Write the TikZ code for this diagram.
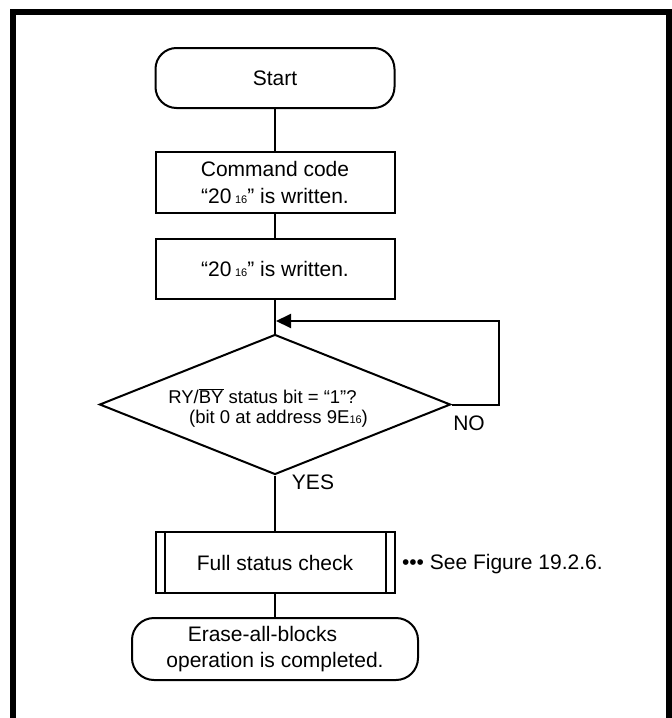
\documentclass[tikz,border=0pt]{standalone}
\usepackage{fontspec}
\setmainfont{Liberation Sans}
\usetikzlibrary{shapes.geometric,arrows.meta}
\newcommand{\sixteen}{{\fontsize{11}{11}\selectfont 16}}
\begin{document}
\begin{tikzpicture}[x=1pt,y=-1pt,
  line width=2pt,
  txt/.style={font=\fontsize{21}{27.5}\selectfont},
  dtxt/.style={font=\fontsize{18.5}{20}\selectfont, inner sep=0pt},
  term/.style={draw, rounded corners=21pt, inner sep=0pt, align=center, txt},
  proc/.style={draw, inner sep=0pt, align=center, txt},
  dec/.style={draw, diamond, inner sep=0pt, minimum width=351pt, minimum height=140pt}]
\useasboundingbox (0,0) rectangle (672,718);
\fill[white] (0,0) rectangle (672,718);
\draw[line width=6pt] (13,718) -- (13,12) -- (669,12) -- (669,718);

\node[term, minimum width=239pt, minimum height=60pt] (start) at (275,78) {Start};
\node[proc, minimum width=239pt, minimum height=61pt] (cmd1) at (275,182.5) {Command code\\“20\,\sixteen” is written.};
\node[proc, minimum width=239pt, minimum height=60pt] (cmd2) at (275,269) {“20\,\sixteen” is written.};
\node[dec] (dia) at (275,404.5) {};
\node[dtxt, anchor=base] (q1) at (262.5,403) {RY/$\overline{\mbox{BY}}$ status bit = “1”?};
\node[dtxt, anchor=base] (q2) at (278.5,423) {(bit 0 at address 9E\sixteen)};
\node[txt, anchor=base, inner sep=0pt] (no) at (469,430) {NO};
\node[txt, anchor=base, inner sep=0pt] (yes) at (313,489) {YES};

\node[proc, minimum width=239pt, minimum height=61pt] (fsc) at (275,562.5) {Full status check};
\draw ([xshift=10pt]fsc.north west) -- ([xshift=10pt]fsc.south west);
\draw ([xshift=-10pt]fsc.north east) -- ([xshift=-10pt]fsc.south east);
\node[txt, anchor=west, inner sep=0pt] (see) at (401,564) {••• See Figure 19.2.6.};

\node[term, rounded corners=22pt, minimum width=286pt, minimum height=62pt, font=\fontsize{21}{26}\selectfont] (end) at (275,649) {\hspace*{0pt}Erase-all-blocks\hspace*{25pt}\\operation is completed.};

\draw (start.south) -- (cmd1.north);
\draw (cmd1.south) -- (cmd2.north);
\draw (cmd2.south) -- (dia.north);
\draw (dia.south) -- (fsc.north);
\draw (fsc.south) -- (end.north);
\coordinate (lp1) at (499,404.5);
\coordinate (lp2) at (499,321);
\coordinate (lp3) at (276,321);
\draw[-{Triangle[length=15pt,width=14pt]}] (dia.east) -- (lp1) -- (lp2) -- (lp3);
\end{tikzpicture}
\end{document}
